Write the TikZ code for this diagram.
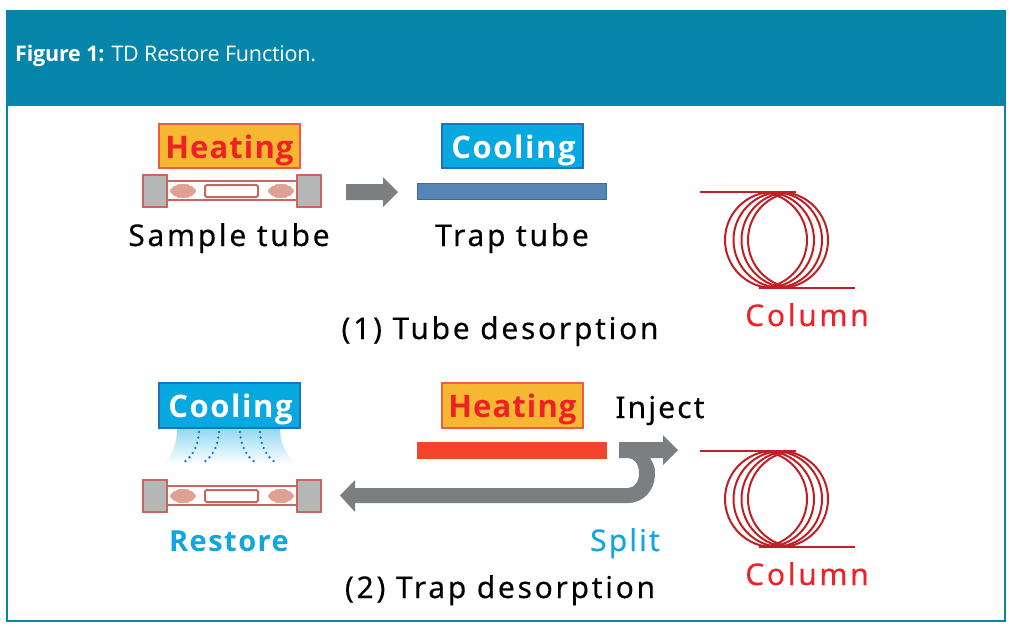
\documentclass[tikz,border=0pt]{standalone}
\usepackage{fontspec}
\setmainfont{Open Sans}
\newfontfamily\lab[LetterSpace=9,FakeBold=0.25]{Noto Sans}
\newfontfamily\labtight[LetterSpace=7,FakeBold=0.25]{Noto Sans}
\newfontfamily\labb[LetterSpace=5]{Open Sans}
\newfontfamily\labc[LetterSpace=3.5]{Open Sans}
\usetikzlibrary{shadings}
\definecolor{teal1}{HTML}{0585AA}
\definecolor{heatfill}{HTML}{F6B731}
\definecolor{heatline}{HTML}{F15A45}
\definecolor{heattext}{HTML}{EE2226}
\definecolor{coolfill}{HTML}{08A8E0}
\definecolor{coolline}{HTML}{1C75BC}
\definecolor{tubeline}{HTML}{C8675F}
\definecolor{capfill}{HTML}{B4B7B6}
\definecolor{blob}{HTML}{DFA193}
\definecolor{arrowgray}{HTML}{7B7F82}
\definecolor{coil}{HTML}{BE2026}
\definecolor{trapfill}{HTML}{5584B5}
\definecolor{trapline}{HTML}{2F6FA8}
\definecolor{hotbar}{HTML}{F4452B}
\definecolor{splitblue}{HTML}{13A5E0}
\tikzset{
  x=1pt,y=-1pt,
  txt/.style={anchor=base,inner sep=0pt,font=\lab\fontsize{30}{30}\selectfont,text=black},
  boxtxt/.style={anchor=base,inner sep=0pt,font=\labb\bfseries\fontsize{31}{31}\selectfont},
  heattxt/.style={anchor=base,inner sep=0pt,font=\labc\bfseries\fontsize{31}{31}\selectfont,text=heattext},
  heatbox/.style={draw=heatline,fill=heatfill,line width=1.6pt},
  coolbox/.style={draw=coolline,fill=coolfill,line width=1.4pt},
  tubewall/.style={draw=tubeline,line width=2pt},
  endcap/.style={draw=tubeline,fill=capfill,line width=2pt},
  blobby/.style={fill=blob,draw=none},
  coilline/.style={draw=coil,line width=2pt},
  bigarrow/.style={fill=arrowgray,draw=none},
  breeze/.style={draw=coolline,line width=2.6pt,dash pattern=on 0pt off 5.5pt,line cap=round}
}
\newcommand{\sampletube}[1]{%
  \begin{scope}[yshift=#1]
    \draw[tubewall,fill=white] (167,181) rectangle (297,200);
    \draw[tubewall,fill=white,rounded corners=1.5pt] (205,185) rectangle (258,197);
    \foreach \cx in {183,281}{
      \fill[blobby] (\cx,191) ellipse [x radius=11,y radius=7];
      \foreach \dx/\dy in {-8/-2,-8/2,-4/-4,4/-4,8/-2,8/2,4/4,-4/4,-10/0,10/0}{
        \fill[blobby] (\cx+\dx,191+\dy) circle [radius=3];
      }
    }
    \draw[endcap] (143,175) rectangle (167,207);
    \draw[endcap] (297,175) rectangle (321,207);
  \end{scope}}
\newcommand{\coilshape}[1]{%
  \begin{scope}[yshift=#1]
    \coordinate (cin#1) at (700,192);
    \coordinate (cinend#1) at (794,192);
    \coordinate (cout#1) at (855,288);
    \coordinate (coutend#1) at (761,288);
    \foreach \c in {773,781.5,789.5,796}{
      \draw[coilline] (\c,192) .. controls (\c-26.5,192) and (\c-48,213.5) .. (\c-48,240)
        .. controls (\c-48,266.5) and (\c-26.5,288) .. (\c,288);
    }
    \foreach \c in {759,766,774,780}{
      \draw[coilline] (\c,192) .. controls (\c+26.5,192) and (\c+48,213.5) .. (\c+48,240)
        .. controls (\c+48,266.5) and (\c+26.5,288) .. (\c,288);
    }
    \draw[coilline] (cin#1) -- (cinend#1);
    \draw[coilline] (coutend#1) -- (cout#1);
  \end{scope}}
\begin{document}
\begin{tikzpicture}
\useasboundingbox (0,0) rectangle (1012,630);
\fill[white] (0,0) rectangle (1012,630);
% frame and header
\draw[teal1,line width=1.6pt] (7,106) -- (7,621) -- (1005,621) -- (1005,106);
\fill[teal1] (6,10) rectangle (1006,106);
\node[anchor=base west,inner sep=0pt,text=white,font=\fontsize{21.5}{22}\selectfont] (caption) at (15,61) {\addfontfeatures{LetterSpace=-0.9}\textbf{Figure 1:} TD Restore Function.};
% panel 1
\node[heatbox,minimum width=141pt,minimum height=44pt,inner sep=0pt] (heat1) at (229.5,146) {};
\node[heattxt] (heat1t) at (229.5,158) {Heating};
\sampletube{0}
\node[txt] (sample) at (229,246) {Sample tube};
\fill[bigarrow] (346,184) -- (383,184) -- (383,177) -- (398,192) -- (383,207) -- (383,200) -- (346,200) -- cycle;
\node[coolbox,minimum width=141pt,minimum height=44pt,inner sep=0pt] (cool1) at (512.5,146) {};
\node[boxtxt,text=white] (cool1t) at (513.5,158) {Cooling};
\draw[draw=trapline,fill=trapfill,line width=1pt] (417.5,183.5) rectangle (606.5,199);
\node[txt] (trap) at (512,246) {Trap tube};
\coilshape{0}
\node[txt,text=heattext] (col1) at (807,326) {Column};
\node[txt] (t1) at (500,339) {(1) Tube desorption};
% panel 2
\shade[top color=coolfill!45,bottom color=white] (177,428) .. controls (177,445) and (172,455) .. (163,464) -- (296,464) .. controls (287,455) and (280,445) .. (280,428) -- cycle;
\draw[breeze] (199,432) .. controls (198,446) and (193,456) .. (183,463);
\draw[breeze] (219,432) .. controls (218,446) and (213,456) .. (203,463);
\draw[breeze] (240,432) .. controls (241,446) and (246,456) .. (256,463);
\draw[breeze] (260,432) .. controls (261,446) and (266,456) .. (276,463);
\node[coolbox,minimum width=141pt,minimum height=45pt,inner sep=0pt] (cool2) at (229.5,405.5) {};
\node[boxtxt,text=white] (cool2t) at (230.5,417) {Cooling};
\sampletube{-305}
\node[txt,text=splitblue,font=\labb\bfseries\fontsize{29}{29}\selectfont] (restore) at (229,551) {Restore};
\node[heatbox,minimum width=141pt,minimum height=45pt,inner sep=0pt] (heat2) at (512.5,405.5) {};
\node[heattxt] (heat2t) at (512.5,417) {Heating};
\fill[hotbar] (417,441.5) rectangle (607,458.5);
\fill[bigarrow] (619,442) -- (663,442) -- (663,435) -- (678,450) -- (663,465) -- (663,458) -- (650,458)
  .. controls (654,464) and (655,468) .. (655,473)
  .. controls (655,492) and (642,503) .. (628,503)
  -- (355,503) -- (355,512) -- (340,495.5) -- (355,480) -- (355,488)
  -- (628,488) .. controls (635,488) and (639,481) .. (639,473)
  .. controls (639,464) and (634,458) .. (628,458) -- (619,458) -- cycle;
\node[txt,font=\labtight\fontsize{30}{30}\selectfont] (inject) at (660,418) {Inject};
\node[txt,text=splitblue,font=\labtight\fontsize{30}{30}\selectfont] (split) at (625,551) {Split};
\coilshape{-259}
\node[txt,text=heattext] (col2) at (807,585) {Column};
\node[txt] (t2) at (500,598) {(2) Trap desorption};
\end{tikzpicture}
\end{document}
